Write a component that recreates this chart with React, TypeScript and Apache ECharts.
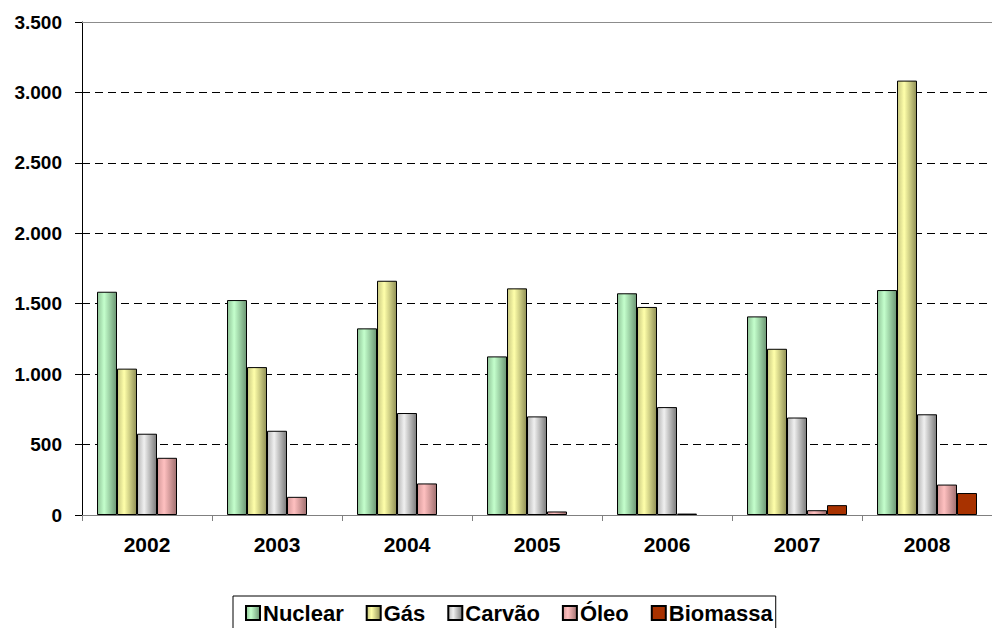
import React, { useEffect, useRef } from "react";
import * as echarts from "echarts";

// Anos
const years = ["2002", "2003", "2004", "2005", "2006", "2007", "2008"];

// Geração por fonte
const nuclear = [1585, 1526, 1325, 1126, 1574, 1410, 1597];
const gas = [1039, 1050, 1663, 1609, 1477, 1180, 3084];
const carvao = [577, 598, 724, 700, 766, 692, 715];
const oleo = [406, 129, 224, 25, 10, 34, 216];
const biomassa: (number | null)[] = [null, null, null, null, null, 70, 156];

const seriesNames = ["Nuclear", "Gás", "Carvão", "Óleo", "Biomassa"];

const Y_MAX = 3500;
const Y_STEP = 500;

const FONT = "'Liberation Sans', Arial, Helvetica, sans-serif";

function shade(left: string, light: string, right: string) {
  return new echarts.graphic.LinearGradient(0, 0, 1, 0, [
    { offset: 0, color: left },
    { offset: 0.35, color: light },
    { offset: 1, color: right },
  ]);
}

function thousands(v: number) {
  return String(v).replace(/\B(?=(\d{3})+(?!\d))/g, ".");
}

export default function App() {
  const ref = useRef<HTMLDivElement>(null);

  useEffect(() => {
    if (!ref.current) return;
    const chart = echarts.init(ref.current, undefined, { renderer: "svg" });

    const fills = [
      shade("#8FC497", "#C4FFCC", "#6B9673"),
      shade("#C8C880", "#FFFFAA", "#8F8F55"),
      shade("#B5B5B5", "#F0F0F0", "#7A7A7A"),
      shade("#D49A9A", "#FFC0C0", "#A07070"),
      "#A83200",
    ];
    const data = [nuclear, gas, carvao, oleo, biomassa];

    const series: any[] = data.map((values, i) => ({
      name: seriesNames[i],
      type: "bar",
      data: values.map((v) => (v == null ? "-" : v)),
      barWidth: 20,
      barGap: "0%",
      itemStyle: {
        color: fills[i],
        borderColor: "#000",
        borderWidth: 1,
      },
    }));

    // Linha superior da área de plotagem
    series[0].markLine = {
      silent: true,
      symbol: "none",
      label: { show: false },
      lineStyle: { color: "#8C8C8C", type: "solid", width: 1 },
      data: [{ yAxis: Y_MAX }],
    };

    chart.setOption({
      animation: false,
      backgroundColor: "#fff",
      textStyle: { fontFamily: FONT },
      grid: { left: 82, top: 22, right: -11, bottom: 113 },
      legend: {
        data: seriesNames,
        left: 233,
        top: 596,
        orient: "horizontal",
        padding: [6, 3, 12, 12],
        itemGap: 22,
        itemWidth: 14,
        itemHeight: 14,
        borderColor: "#000",
        borderWidth: 1,
        backgroundColor: "#fff",
        textStyle: {
          fontFamily: FONT,
          fontWeight: "bold",
          fontSize: 22,
          color: "#000",
          padding: [0, 0, 0, -2],
        },
        icon: "rect",
      },
      xAxis: {
        type: "category",
        data: years,
        axisLine: { show: true, lineStyle: { color: "#808080", width: 1 } },
        axisTick: {
          show: true,
          length: 6,
          lineStyle: { color: "#808080" },
        },
        axisLabel: {
          margin: 19,
          fontFamily: FONT,
          fontWeight: "bold",
          fontSize: 21,
          color: "#000",
        },
      },
      yAxis: {
        type: "value",
        min: 0,
        max: Y_MAX,
        interval: Y_STEP,
        axisLine: { show: true, lineStyle: { color: "#000", width: 1 } },
        axisTick: { show: true, length: 7, lineStyle: { color: "#000" } },
        axisLabel: {
          margin: 20,
          fontFamily: FONT,
          fontWeight: "bold",
          fontSize: 19,
          color: "#000",
          formatter: (v: number) => thousands(v),
        },
        splitLine: {
          show: true,
          lineStyle: { color: "#000", type: [8, 5], width: 1 },
        },
      },
      series,
    });

    return () => chart.dispose();
  }, []);

  return (
    <div
      ref={ref}
      style={{
        position: "fixed",
        left: 0,
        top: 0,
        width: 992,
        height: 628,
        background: "#fff",
      }}
    />
  );
}
